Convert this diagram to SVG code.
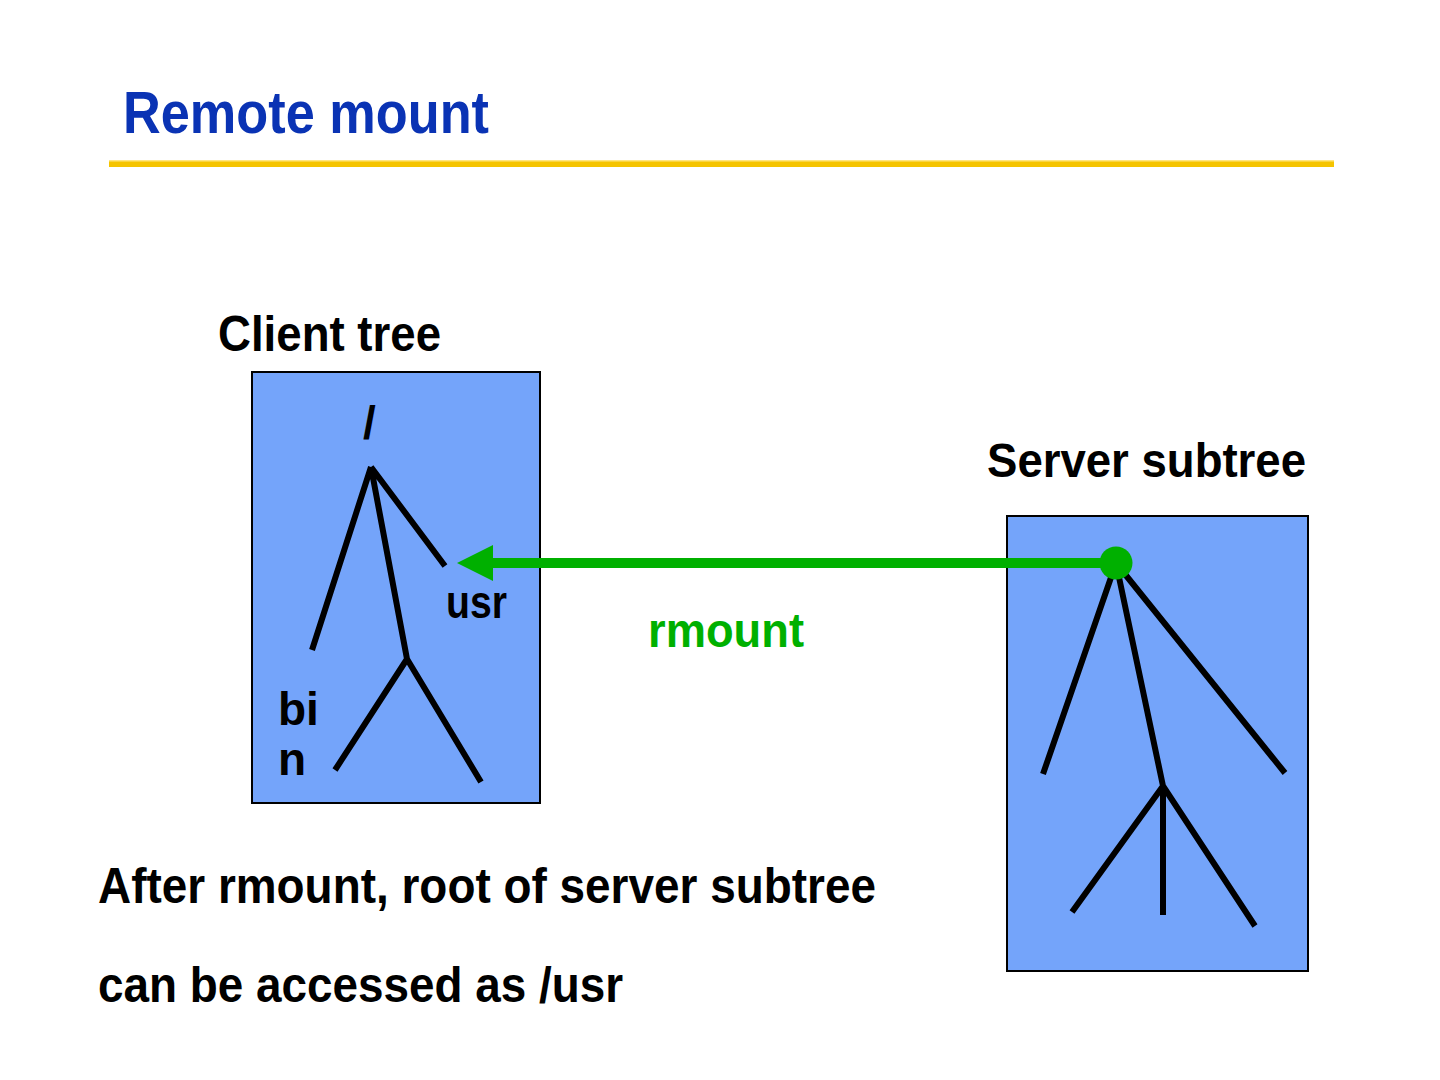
<svg xmlns="http://www.w3.org/2000/svg" width="1440" height="1080" viewBox="0 0 1440 1080">
<defs>
<style>
.t{font-family:"Liberation Sans",Arial,sans-serif;font-weight:bold;fill:#000}
.box{fill:#74A4FA;stroke:#000;stroke-width:2}
.br{stroke:#000;stroke-width:6;fill:none}
</style>
<marker id="ah" markerWidth="36" markerHeight="36" viewBox="0 0 36 36" refX="0" refY="18" orient="auto" markerUnits="userSpaceOnUse">
<path d="M0,0 L36,18 L0,36 Z" fill="#00B000"/>
</marker>
</defs>
<rect width="1440" height="1080" fill="#fff"/>
<g id="title">
<text class="t" x="123" y="133" font-size="60" textLength="366" lengthAdjust="spacingAndGlyphs" style="fill:#0A33B4">Remote mount</text>
<rect x="109" y="160" width="1225" height="7" fill="#F5C400"/>
<rect x="109" y="160" width="1225" height="1.5" fill="#FFE680"/>
</g>
<g id="client">
<text class="t" x="218" y="351" font-size="50" textLength="223" lengthAdjust="spacingAndGlyphs">Client tree</text>
<rect class="box" x="252" y="372" width="288" height="431"/>
<text class="t" x="363" y="439" font-size="46">/</text>
<path class="br" d="M371,467 L312,650 M371,467 L407,659 M371,467 L445,566 M407,659 L335,770 M407,659 L481,782"/>
<text class="t" x="446" y="618" font-size="46" textLength="61" lengthAdjust="spacingAndGlyphs">usr</text>
<text class="t" x="278" y="725" font-size="46">bi</text>
<text class="t" x="278" y="775" font-size="46">n</text>
</g>
<g id="server">
<text class="t" x="987" y="477" font-size="48" textLength="319" lengthAdjust="spacingAndGlyphs">Server subtree</text>
<rect class="box" x="1007" y="516" width="301" height="455"/>
<path class="br" d="M1116,563 L1043,774 M1116,563 L1163,786 M1116,563 L1285,773 M1163,786 L1072,912 M1163,786 L1163,915 M1163,786 L1255,926"/>
</g>
<g id="connectors">
<line x1="1116" y1="563" x2="493" y2="563" stroke="#00B000" stroke-width="10" marker-end="url(#ah)"/>
<circle cx="1116" cy="563" r="16.5" fill="#00B000"/>
<text class="t" x="648" y="647" font-size="48" textLength="156" lengthAdjust="spacingAndGlyphs" style="fill:#00B000">rmount</text>
</g>
<g id="caption">
<text class="t" x="98" y="903" font-size="50" textLength="778" lengthAdjust="spacingAndGlyphs">After rmount, root of server subtree</text>
<text class="t" x="98" y="1002" font-size="50" textLength="525" lengthAdjust="spacingAndGlyphs">can be accessed as /usr</text>
</g>
</svg>
